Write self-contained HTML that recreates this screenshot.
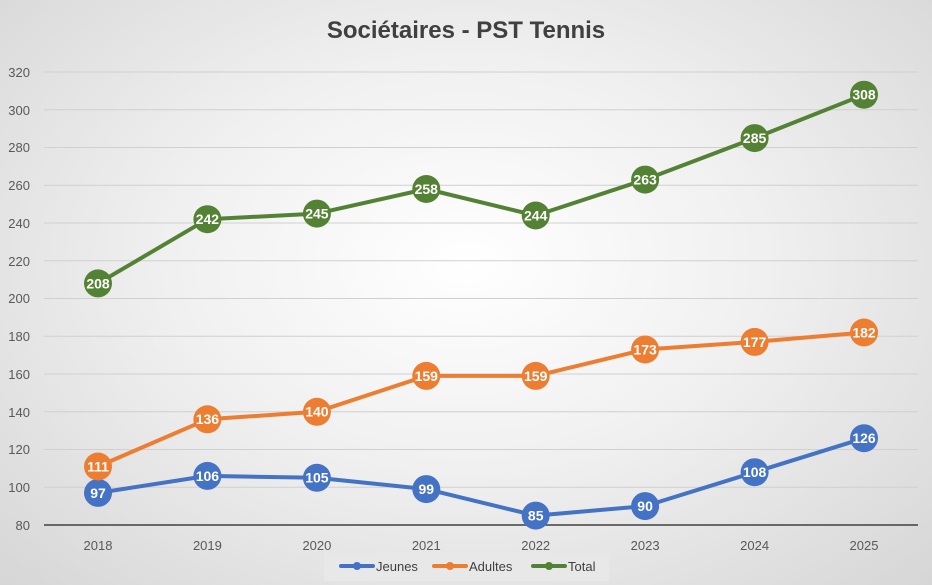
<!DOCTYPE html>
<html><head><meta charset="utf-8"><style>
html,body{margin:0;padding:0;}
body{width:932px;height:585px;overflow:hidden;background:radial-gradient(ellipse at 50% 45%,#ffffff 0%,#f0f0f0 45%,#d6d6d6 100%);font-family:"Liberation Sans",sans-serif;}
svg{display:block;}
</style></head><body>
<svg width="932" height="585" xmlns="http://www.w3.org/2000/svg" font-family="Liberation Sans, sans-serif">
<text x="466" y="38" text-anchor="middle" font-size="24" font-weight="bold" fill="#404040">Sociétaires - PST Tennis</text>
<g stroke="#d0d0d0" stroke-width="1">
<line x1="44" x2="918" y1="72" y2="72"/><line x1="44" x2="918" y1="109.75" y2="109.75"/><line x1="44" x2="918" y1="147.5" y2="147.5"/><line x1="44" x2="918" y1="185.25" y2="185.25"/><line x1="44" x2="918" y1="223" y2="223"/><line x1="44" x2="918" y1="260.75" y2="260.75"/><line x1="44" x2="918" y1="298.5" y2="298.5"/><line x1="44" x2="918" y1="336.25" y2="336.25"/><line x1="44" x2="918" y1="374" y2="374"/><line x1="44" x2="918" y1="411.75" y2="411.75"/><line x1="44" x2="918" y1="449.5" y2="449.5"/><line x1="44" x2="918" y1="487.25" y2="487.25"/>
</g>
<line x1="44" x2="918" y1="525" y2="525" stroke="#404040" stroke-width="1.5"/>
<g font-size="13" fill="#595959" text-anchor="end">
<text x="30" y="77">320</text><text x="30" y="115">300</text><text x="30" y="152">280</text><text x="30" y="190">260</text><text x="30" y="228">240</text><text x="30" y="266">220</text><text x="30" y="303">200</text><text x="30" y="341">180</text><text x="30" y="379">160</text><text x="30" y="417">140</text><text x="30" y="454">120</text><text x="30" y="492">100</text><text x="30" y="530">80</text>
</g>
<g font-size="13" fill="#595959" text-anchor="middle">
<text x="98" y="550">2018</text><text x="207.4" y="550">2019</text><text x="316.9" y="550">2020</text><text x="426.3" y="550">2021</text><text x="535.7" y="550">2022</text><text x="645.1" y="550">2023</text><text x="754.6" y="550">2024</text><text x="864" y="550">2025</text>
</g>
<g fill="none" stroke-width="4" stroke-linejoin="round">
<polyline stroke="#4472c4" points="98,492.9 207.4,475.9 316.9,477.8 426.3,489.1 535.7,515.6 645.1,506.1 754.6,472.2 864,438.2"/>
<polyline stroke="#ed7d31" points="98,466.5 207.4,419.3 316.9,411.8 426.3,375.9 535.7,375.9 645.1,349.5 754.6,341.9 864,332.5"/>
<polyline stroke="#548235" points="98,283.4 207.4,219.2 316.9,213.6 426.3,189 535.7,215.5 645.1,179.6 754.6,138.1 864,94.7"/>
</g>
<g font-size="14" font-weight="bold" fill="#fff" text-anchor="middle">
<g fill="#4472c4"><circle cx="98" cy="492.9" r="14"/><circle cx="207.4" cy="475.9" r="14"/><circle cx="316.9" cy="477.8" r="14"/><circle cx="426.3" cy="489.1" r="14"/><circle cx="535.7" cy="515.6" r="14"/><circle cx="645.1" cy="506.1" r="14"/><circle cx="754.6" cy="472.2" r="14"/><circle cx="864" cy="438.2" r="14"/></g>
<text x="98" y="497.8">97</text><text x="207.4" y="480.8">106</text><text x="316.9" y="482.7">105</text><text x="426.3" y="494">99</text><text x="535.7" y="520.5">85</text><text x="645.1" y="511">90</text><text x="754.6" y="477.1">108</text><text x="864" y="443.1">126</text>
<g fill="#ed7d31"><circle cx="98" cy="466.5" r="14"/><circle cx="207.4" cy="419.3" r="14"/><circle cx="316.9" cy="411.8" r="14"/><circle cx="426.3" cy="375.9" r="14"/><circle cx="535.7" cy="375.9" r="14"/><circle cx="645.1" cy="349.5" r="14"/><circle cx="754.6" cy="341.9" r="14"/><circle cx="864" cy="332.5" r="14"/></g>
<text x="98" y="471.4">111</text><text x="207.4" y="424.2">136</text><text x="316.9" y="416.7">140</text><text x="426.3" y="380.8">159</text><text x="535.7" y="380.8">159</text><text x="645.1" y="354.4">173</text><text x="754.6" y="346.8">177</text><text x="864" y="337.4">182</text>
<g fill="#548235"><circle cx="98" cy="283.4" r="14"/><circle cx="207.4" cy="219.2" r="14"/><circle cx="316.9" cy="213.6" r="14"/><circle cx="426.3" cy="189" r="14"/><circle cx="535.7" cy="215.5" r="14"/><circle cx="645.1" cy="179.6" r="14"/><circle cx="754.6" cy="138.1" r="14"/><circle cx="864" cy="94.7" r="14"/></g>
<text x="98" y="288.3">208</text><text x="207.4" y="224.1">242</text><text x="316.9" y="218.5">245</text><text x="426.3" y="193.9">258</text><text x="535.7" y="220.4">244</text><text x="645.1" y="184.5">263</text><text x="754.6" y="143">285</text><text x="864" y="99.6">308</text>
</g>
<rect x="324" y="553" width="285" height="28" fill="#e8e8e8"/>
<g stroke-width="4" stroke-linecap="round">
<line x1="341" x2="373" y1="566" y2="566" stroke="#4472c4"/><circle cx="357" cy="566" r="4" fill="#4472c4"/>
<line x1="434" x2="466" y1="566" y2="566" stroke="#ed7d31"/><circle cx="450" cy="566" r="4" fill="#ed7d31"/>
<line x1="533" x2="565" y1="566" y2="566" stroke="#548235"/><circle cx="549" cy="566" r="4" fill="#548235"/>
</g>
<g font-size="13" fill="#404040">
<text x="376" y="571">Jeunes</text><text x="469" y="571">Adultes</text><text x="568" y="571">Total</text>
</g>
</svg>
</body></html>
